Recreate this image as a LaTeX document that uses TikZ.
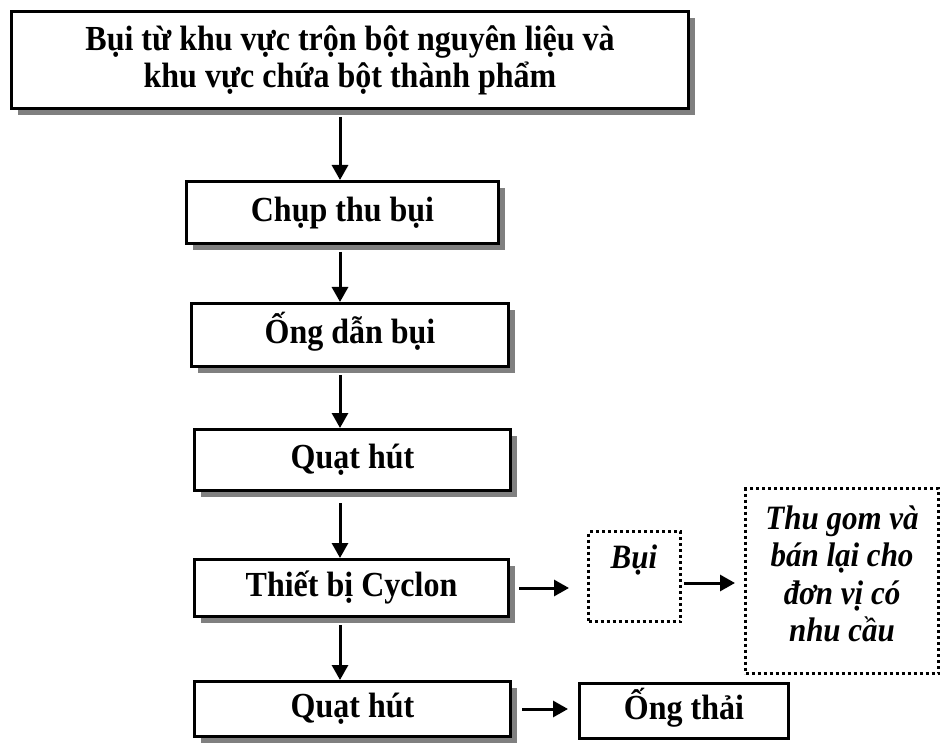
\documentclass[tikz,border=0pt]{standalone}
\usepackage{fontspec}
\usepackage{graphicx}
\setmainfont{Liberation Serif}
\usetikzlibrary{arrows.meta,shadows}
\newcommand{\vst}[1]{\raisebox{0pt}[0.75em][0.2em]{\scalebox{1}[1.1]{#1}}}
\begin{document}
\begin{tikzpicture}[x=1pt,y=-1pt,
  txt/.style={font=\bfseries\fontsize{32}{37}\selectfont, align=center},
  itxt/.style={font=\bfseries\itshape\fontsize{31}{37.5}\selectfont, align=center},
  box/.style={txt, draw, line width=3pt, fill=white, inner sep=0pt,
    drop shadow={shadow xshift=6.5pt, shadow yshift=-6.5pt, fill=black!50, opacity=1}},
  plainbox/.style={txt, draw, line width=3pt, fill=white, inner sep=0pt},
  dotbox/.style={draw, line width=3pt, dash pattern=on 3pt off 3pt, inner sep=0pt},
  arr/.style={line width=3pt, -{Triangle[width=16pt,length=15pt]}, shorten <=7pt}]
\useasboundingbox (0,0) rectangle (942,743);
\node[box, minimum width=677pt, minimum height=97pt] (top) at (350,60)
  {\vst{Bụi từ khu vực trộn bột nguyên liệu và}\\\vst{khu vực chứa bột thành phẩm}};
\node[box, minimum width=312pt, minimum height=62pt] (chup) at (342.5,212.5) {\vst{Chụp thu bụi}};
\node[box, minimum width=317pt, minimum height=63pt] (ong) at (350,335) {\vst{Ống dẫn bụi}};
\node[box, minimum width=316pt, minimum height=61pt] (qh) at (352.5,460) {\vst{Quạt hút}};
\node[box, minimum width=314pt, minimum height=57pt] (cyc) at (351.5,588) {\vst{Thiết bị Cyclon}};
\node[box, minimum width=316pt, minimum height=55pt] (qh2) at (352.5,709) {\vst{Quạt hút}};
\node[plainbox, minimum width=209pt, minimum height=55pt] (ot) at (684,711) {\vst{Ống thải}};
\node[dotbox, minimum width=92pt, minimum height=90pt] (bui) at (634.5,576.5) {};
\node[itxt] (buit) at (634,560) {\vst{Bụi}};
\node[dotbox, minimum width=193pt, minimum height=185pt] (tg) at (842,581) {};
\node[itxt] (tgt) at (842,577) {\vst{Thu gom và}\\\vst{bán lại cho}\\\vst{đơn vị có}\\\vst{nhu cầu}};
\coordinate (ax) at (340,0);
\draw[arr] (top.south -| ax) -- (chup.north -| ax);
\draw[arr] (chup.south -| ax) -- (ong.north -| ax);
\draw[arr] (ong.south -| ax) -- (qh.north -| ax);
\draw[arr, shorten <=11pt] (qh.south -| ax) -- (cyc.north -| ax);
\draw[arr] (cyc.south -| ax) -- (qh2.north -| ax);
\draw[arr, shorten <=9pt, shorten >=18pt] (cyc.east) -- (cyc.east -| bui.west);
\draw[arr, shorten <=2pt, shorten >=9pt] ([yshift=-6.5pt]bui.east) -- ([yshift=-6.5pt]bui.east -| tg.west);
\draw[arr, shorten <=10pt, shorten >=10pt] (qh2.east) -- (qh2.east -| ot.west);
\end{tikzpicture}
\end{document}
